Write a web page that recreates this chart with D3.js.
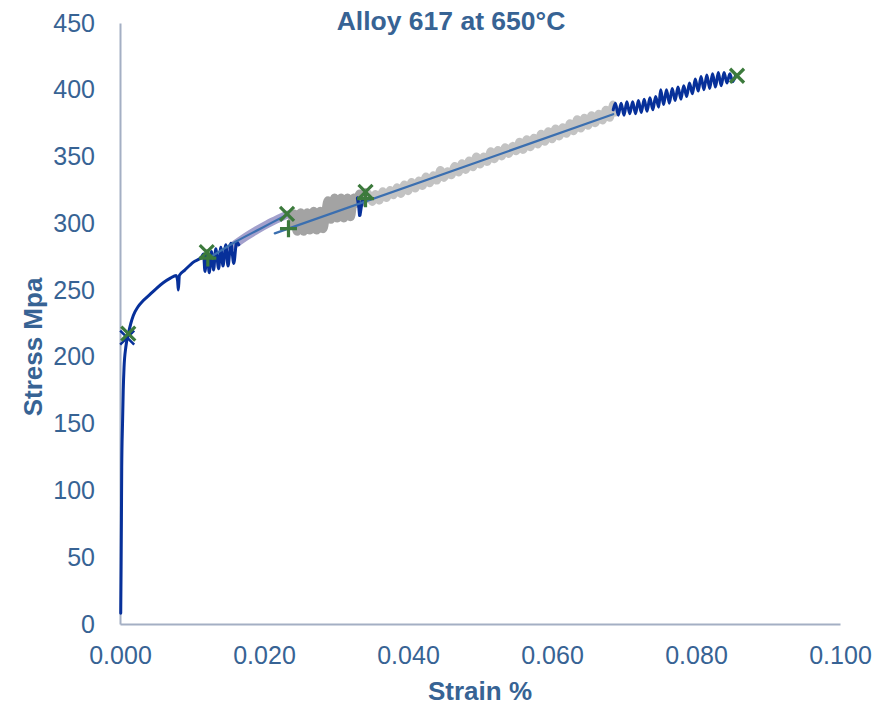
<!DOCTYPE html>
<html>
<head>
<meta charset="utf-8">
<script src="https://cdn.jsdelivr.net/npm/d3@7"></script>
<style>
  html, body { margin: 0; padding: 0; background: #fff; }
  svg { display: block; }
  text { font-family: "Liberation Sans", Arial, sans-serif; }
</style>
</head>
<body>
<svg id="chart" width="889" height="705"></svg>
<script>
// ---------------- DATA ----------------
const chartTitle = "Alloy 617 at 650°C";
const xLabel = "Strain %";
const yLabel = "Stress Mpa";
const xTicks = [0, 0.02, 0.04, 0.06, 0.08, 0.1];
const yTicks = [0, 50, 100, 150, 200, 250, 300, 350, 400, 450];

// [strain, stress MPa]
const navyInitial = [
  [0.00010, 8], [0.00015, 40], [0.00020, 80], [0.00024, 117], [0.00035, 150],
  [0.00045, 175], [0.00056, 192], [0.00080, 207], [0.00115, 217], [0.00150, 225],
  [0.00185, 231], [0.0025, 237.5], [0.0032, 242], [0.0042, 247], [0.0050, 251],
  [0.0060, 255.5], [0.0070, 259], [0.0078, 261], [0.0080, 257], [0.0081, 250],
  [0.00825, 261], [0.0090, 265], [0.0102, 271], [0.01135, 275],
  [0.0116, 277], [0.0118, 264], [0.0121, 278], [0.0124, 263], [0.0127, 279],
  [0.0130, 265], [0.0133, 281], [0.0137, 266], [0.0140, 282], [0.0143, 268],
  [0.0147, 284], [0.0150, 268], [0.0154, 285], [0.0158, 270], [0.0162, 286],
  [0.0165, 284]
];

const purpleSegment = [
  [0.0155, 282.5], [0.0175, 290], [0.0190, 295], [0.0205, 299.5], [0.0220, 303.5], [0.0232, 306.5]
];

const darkGraySerrated = [
  [0.0238, 299], [0.0242, 307], [0.0246, 294], [0.0251, 308], [0.0255, 294], [0.0260, 308],
  [0.0264, 295], [0.0269, 309], [0.0273, 295], [0.0278, 309], [0.0282, 296], [0.0286, 309],
  [0.0289, 317], [0.0293, 303], [0.0298, 319], [0.0302, 304], [0.0307, 319], [0.0311, 304],
  [0.0316, 319], [0.0320, 305], [0.0325, 319], [0.0329, 315], [0.0333, 322], [0.0337, 316],
  [0.0341, 323], [0.0345, 319]
];

const lightGraySerrated = [
  [0.0345, 322], [0.0350, 316], [0.0355, 322], [0.0360, 317], [0.0365, 324], [0.0370, 319],
  [0.0375, 325], [0.0380, 321], [0.0385, 327], [0.0390, 322], [0.0395, 329], [0.0400, 324],
  [0.0405, 331], [0.0410, 326], [0.0415, 332], [0.0420, 328], [0.0425, 335], [0.0430, 330],
  [0.0435, 336], [0.0440, 332], [0.0445, 340], [0.0450, 334], [0.0455, 339], [0.0460, 336],
  [0.0465, 343], [0.0470, 338], [0.0475, 345], [0.0480, 340], [0.0485, 347], [0.0490, 342],
  [0.0495, 350], [0.0500, 344], [0.0505, 350], [0.0510, 346], [0.0515, 354], [0.0520, 348],
  [0.0525, 355], [0.0530, 350], [0.0535, 357], [0.0540, 352], [0.0545, 358], [0.0550, 354],
  [0.0555, 361], [0.0560, 355], [0.0565, 363], [0.0570, 357], [0.0575, 364], [0.0580, 359],
  [0.0585, 367], [0.0590, 361], [0.0595, 369], [0.0600, 363], [0.0605, 371], [0.0610, 365],
  [0.0615, 372], [0.0620, 367], [0.0625, 375], [0.0630, 369], [0.0635, 378], [0.0640, 371],
  [0.0645, 379], [0.0650, 373], [0.0655, 381], [0.0660, 375], [0.0665, 382], [0.0670, 377],
  [0.0675, 385], [0.0680, 379], [0.0685, 389], [0.0688, 383]
];

const navyMiddle = [
  [0.0330, 319], [0.0332, 312], [0.0333, 306], [0.0335, 313], [0.0337, 318]
];

const navyFinal = [
  [0.0685, 385], [0.0688, 390], [0.0692, 381], [0.0696, 390], [0.0700, 381], [0.0704, 391],
  [0.0708, 382], [0.0712, 391], [0.0716, 382], [0.0720, 392], [0.0724, 383], [0.0728, 393],
  [0.0732, 384], [0.0736, 394], [0.0740, 385], [0.0744, 395], [0.0748, 387], [0.0751, 400],
  [0.0755, 389], [0.0759, 400], [0.0763, 390], [0.0767, 401], [0.0771, 392], [0.0775, 402],
  [0.0779, 393], [0.0783, 403], [0.0787, 395], [0.0791, 405], [0.0795, 397], [0.0799, 408],
  [0.0803, 399], [0.0807, 410], [0.0811, 400], [0.0815, 411], [0.0819, 401], [0.0823, 412],
  [0.0827, 402], [0.0831, 413], [0.0835, 403], [0.0839, 413], [0.0843, 405], [0.0847, 412],
  [0.0851, 406], [0.0855, 411]
];

const fitLine1 = [[0.0125, 274.5], [0.0160, 286], [0.0195, 296], [0.0232, 306.5]];
const fitLine2 = [[0.0215, 292.5], [0.0685, 381.7]];

const greenCrosses = [[0.00115, 217.5], [0.01205, 278.5], [0.0232, 307], [0.0341, 323.5], [0.0857, 410.5]];
const greenPluses = [[0.0122, 274], [0.0234, 296], [0.0341, 318.5]];
const navyCrosses = [[0.0010, 214.5]];

// ---------------- CHART ----------------
const svg = d3.select("#chart");
const x = d3.scaleLinear().domain([0, 0.1]).range([120, 840]);
const y = d3.scaleLinear().domain([0, 450]).range([624, 23]);

const textColor = "#376394";
const axisColor = "#A4AFC4";

const line = d3.line().x(d => x(d[0])).y(d => y(d[1]));
const curve = d3.line().x(d => x(d[0])).y(d => y(d[1])).curve(d3.curveCatmullRom.alpha(0.5));
const mono = d3.line().x(d => x(d[0])).y(d => y(d[1])).curve(d3.curveMonotoneX);

// Axes
const yAxis = d3.axisLeft(y).tickValues(yTicks).tickSize(0).tickPadding(25).tickFormat(d3.format("d"));
const xAxis = d3.axisBottom(x).tickValues(xTicks).tickSize(0).tickPadding(22).tickFormat(d3.format(".3f"));

const gy = svg.append("g").attr("transform", "translate(120,0)").call(yAxis);
const gx = svg.append("g").attr("transform", "translate(0,624)").call(xAxis);
[gx, gy].forEach(g => {
  g.select(".domain").attr("stroke", axisColor).attr("stroke-width", 2);
  g.selectAll("text").attr("fill", textColor).style("font-size", "25px")
   .style("font-family", "'Liberation Sans', Arial, sans-serif");
});

// Series
function drawPath(data, color, width, gen, opacity) {
  svg.append("path").datum(data)
    .attr("d", gen || line)
    .attr("fill", "none")
    .attr("stroke", color)
    .attr("stroke-width", width)
    .attr("stroke-linejoin", "round")
    .attr("stroke-linecap", "round")
    .attr("opacity", opacity || 1);
}

drawPath(purpleSegment, "#A3A0CC", 8, curve);
drawPath(darkGraySerrated, "#A3A3A3", 9, curve);
drawPath(lightGraySerrated, "#C3C3C3", 8, curve);
drawPath(navyInitial, "#07309A", 3, mono);
drawPath(navyMiddle, "#07309A", 3.5, line);
drawPath(navyFinal, "#07309A", 3, curve);
drawPath(fitLine1, "#3B6FB0", 2.2, curve);
drawPath(fitLine2, "#3B6FB0", 2.2, line);

// Markers
function drawCross(data, color, size, w) {
  const g = svg.append("g");
  g.selectAll("path").data(data).enter().append("path")
    .attr("d", d => {
      const cx = x(d[0]), cy = y(d[1]), s = size / 2;
      return `M${cx - s},${cy - s}L${cx + s},${cy + s}M${cx - s},${cy + s}L${cx + s},${cy - s}`;
    })
    .attr("stroke", color).attr("stroke-width", w).attr("fill", "none");
}
function drawPlus(data, color, size, w) {
  const g = svg.append("g");
  g.selectAll("path").data(data).enter().append("path")
    .attr("d", d => {
      const cx = x(d[0]), cy = y(d[1]), s = size / 2;
      return `M${cx - s},${cy}L${cx + s},${cy}M${cx},${cy - s}L${cx},${cy + s}`;
    })
    .attr("stroke", color).attr("stroke-width", w).attr("fill", "none");
}
drawCross(navyCrosses, "#07309A", 14, 2.5);
drawPlus(greenPluses, "#3C7A3C", 17, 3.2);
drawCross(greenCrosses, "#3C7A3C", 14, 3.2);

// Titles
svg.append("text").attr("x", 451).attr("y", 30).attr("text-anchor", "middle")
  .attr("fill", textColor).style("font-size", "26.5px").style("font-weight", "bold")
  .text(chartTitle);
svg.append("text").attr("x", 480).attr("y", 700).attr("text-anchor", "middle")
  .attr("fill", textColor).style("font-size", "26px").style("font-weight", "bold")
  .text(xLabel);
svg.append("text").attr("transform", "translate(42,347) rotate(-90)").attr("text-anchor", "middle")
  .attr("fill", textColor).style("font-size", "26px").style("font-weight", "bold")
  .text(yLabel);
</script>
</body>
</html>
